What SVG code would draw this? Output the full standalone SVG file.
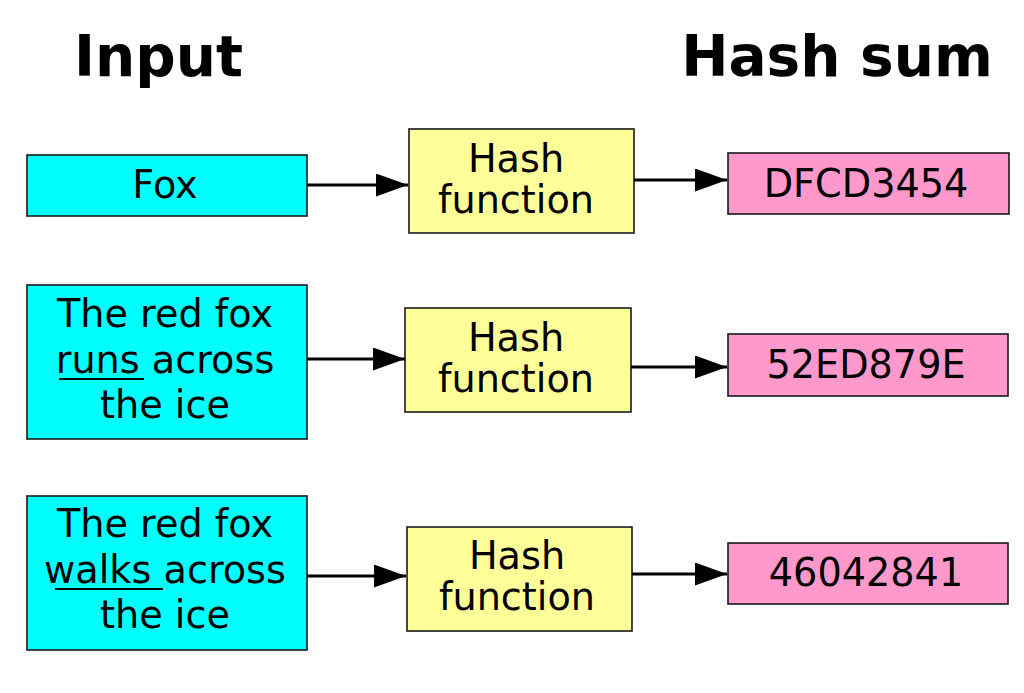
<svg xmlns="http://www.w3.org/2000/svg" width="1024" height="693" viewBox="0 0 1024 693">
  <style>
    text { font-family: "DejaVu Sans", "Liberation Sans", sans-serif; fill: #000; text-anchor: middle; }
    .title { font-size: 56.5px; font-weight: bold; }
    .lbl { font-size: 38.2px; }
    .in { fill: #00ffff; stroke: #1a1a1a; stroke-width: 1.6; }
    .hf { fill: #ffff99; stroke: #1a1a1a; stroke-width: 1.6; }
    .out { fill: #ff99cc; stroke: #1a1a1a; stroke-width: 1.6; }
    .arr { stroke: #000; stroke-width: 3; fill: none; marker-end: url(#ah); }
    .ul { stroke: #000; stroke-width: 1.8; }
  </style>
  <defs>
    <marker id="ah" markerUnits="userSpaceOnUse" markerWidth="33" markerHeight="24" refX="32" refY="11.5" orient="auto">
      <path d="M0,0 L32,11.5 L0,23 z" fill="#000"/>
    </marker>
  </defs>
  <rect width="1024" height="693" fill="#fff"/>

  <g id="titles">
    <text class="title" x="158.5" y="76">Input</text>
    <text class="title" x="837" y="76">Hash sum</text>
  </g>

  <g id="input1">
    <rect class="in" x="27" y="155" width="280" height="61"/>
    <text class="lbl" x="165" y="198">Fox</text>
  </g>
  <g id="hash1">
    <rect class="hf" x="409" y="129" width="225" height="104"/>
    <text class="lbl" x="516" y="172">Hash</text>
    <text class="lbl" x="516" y="213">function</text>
  </g>
  <g id="out1">
    <rect class="out" x="728" y="153" width="281" height="61"/>
    <text class="lbl" x="866" y="197">DFCD3454</text>
  </g>

  <g id="input2">
    <rect class="in" x="27" y="285" width="280" height="154"/>
    <text class="lbl" x="165" y="327">The red fox</text>
    <text class="lbl" x="165" y="373">runs across</text>
    <text class="lbl" x="165" y="418">the ice</text>
    <line class="ul" x1="59" y1="379" x2="144" y2="379"/>
  </g>
  <g id="hash2">
    <rect class="hf" x="405" y="308" width="226" height="104"/>
    <text class="lbl" x="516" y="351">Hash</text>
    <text class="lbl" x="516" y="392">function</text>
  </g>
  <g id="out2">
    <rect class="out" x="728" y="334" width="280" height="62"/>
    <text class="lbl" x="866" y="378">52ED879E</text>
  </g>

  <g id="input3">
    <rect class="in" x="27" y="496" width="280" height="154"/>
    <text class="lbl" x="165" y="537">The red fox</text>
    <text class="lbl" x="165" y="583">walks across</text>
    <text class="lbl" x="165" y="628">the ice</text>
    <line class="ul" x1="55" y1="589" x2="163" y2="589"/>
  </g>
  <g id="hash3">
    <rect class="hf" x="407" y="527" width="225" height="104"/>
    <text class="lbl" x="517" y="569">Hash</text>
    <text class="lbl" x="517" y="610">function</text>
  </g>
  <g id="out3">
    <rect class="out" x="728" y="543" width="280" height="61"/>
    <text class="lbl" x="866" y="586">46042841</text>
  </g>

  <g id="connectors">
    <line class="arr" x1="307" y1="185" x2="408" y2="185"/>
    <line class="arr" x1="634" y1="180" x2="727" y2="180"/>
    <line class="arr" x1="307" y1="359" x2="405" y2="359"/>
    <line class="arr" x1="631" y1="367" x2="727" y2="367"/>
    <line class="arr" x1="307" y1="576" x2="406" y2="576"/>
    <line class="arr" x1="632" y1="574" x2="727" y2="574"/>
  </g>
</svg>
